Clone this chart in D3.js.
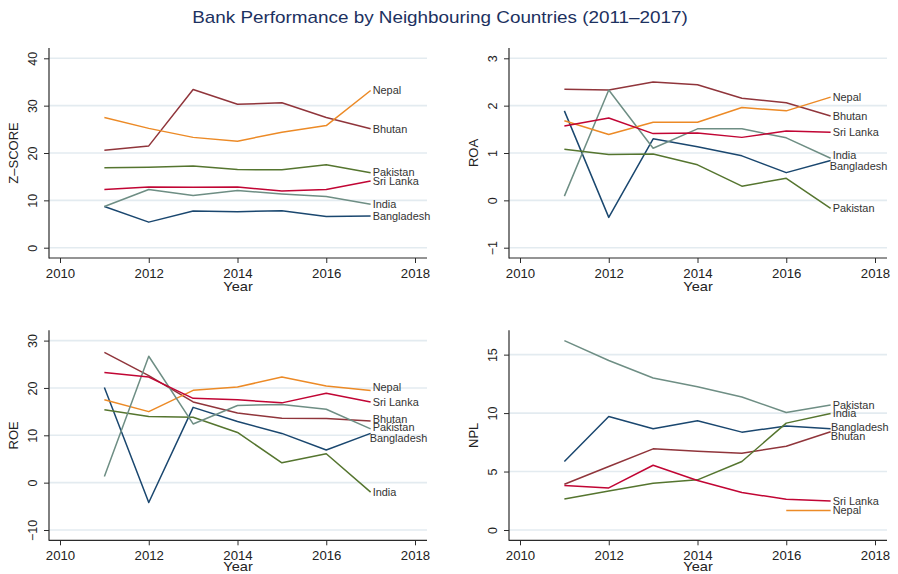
<!DOCTYPE html>
<html>
<head>
<meta charset="utf-8">
<script src="https://cdn.jsdelivr.net/npm/d3@7"></script>
<style>
  html, body { margin: 0; padding: 0; background: #fff; }
  svg { display: block; font-family: "Liberation Sans", Arial, Helvetica, sans-serif; }
</style>
</head>
<body>
<svg id="chart" width="898" height="574"></svg>
<script>
// ---- data ---------------------------------------------------------------
const years = [2011, 2012, 2013, 2014, 2015, 2016, 2017];
const countries = ["Bangladesh", "Bhutan", "India", "Nepal", "Pakistan", "Sri Lanka"];

const zScore = {
  "Bangladesh": [8.7, 5.4, 7.75, 7.6, 7.8, 6.6, 6.7],
  "Bhutan":     [20.6, 21.5, 33.4, 30.3, 30.6, 27.5, 25.1],
  "India":      [8.7, 12.3, 11.0, 12.1, 11.35, 10.8, 9.2],
  "Nepal":      [27.5, 25.2, 23.3, 22.5, 24.4, 25.8, 33.2],
  "Pakistan":   [16.9, 17.0, 17.25, 16.5, 16.45, 17.5, 15.85],
  "Sri Lanka":  [12.3, 12.8, 12.75, 12.8, 12.0, 12.3, 14.1]
};
const zTicks = [0, 10, 20, 30, 40];

const roa = {
  "Bangladesh": [1.89, -0.36, 1.30, 1.13, 0.94, 0.585, 0.84],
  "Bhutan":     [2.345, 2.33, 2.50, 2.44, 2.155, 2.06, 1.78],
  "India":      [0.09, 2.33, 1.10, 1.51, 1.51, 1.32, 0.89],
  "Nepal":      [1.68, 1.39, 1.65, 1.65, 1.96, 1.89, 2.18],
  "Pakistan":   [1.08, 0.97, 0.98, 0.75, 0.30, 0.465, -0.17],
  "Sri Lanka":  [1.57, 1.74, 1.41, 1.42, 1.33, 1.465, 1.44]
};
const roaTicks = [-1, 0, 1, 2, 3];

const roe = {
  "Bangladesh": [20.1, -4.2, 15.9, 12.9, 10.4, 6.9, 10.4],
  "Bhutan":     [27.5, 22.6, 17.05, 14.7, 13.6, 13.55, 13.0],
  "India":      [15.4, 13.95, 13.8, 10.6, 4.2, 6.1, -2.0],
  "Nepal":      [17.5, 15.0, 19.5, 20.2, 22.3, 20.4, 19.45],
  "Pakistan":   [1.3, 26.7, 12.4, 16.3, 16.5, 15.5, 11.35],
  "Sri Lanka":  [23.25, 22.3, 17.8, 17.5, 16.85, 18.9, 17.05]
};
const roeTicks = [-10, 0, 10, 20, 30];

const npl = {
  "Bangladesh": [5.86, 9.71, 8.66, 9.34, 8.37, 8.89, 8.66],
  "Bhutan":     [3.91, 5.43, 6.94, 6.74, 6.57, 7.17, 8.4],
  "India":      [2.66, 3.34, 4.0, 4.29, 5.86, 9.14, 9.97],
  "Nepal":      [null, null, null, null, null, 1.66, 1.66],
  "Pakistan":   [16.2, 14.5, 13.0, 12.26, 11.37, 10.05, 10.69],
  "Sri Lanka":  [3.8, 3.6, 5.54, 4.23, 3.2, 2.63, 2.49]
};
const nplTicks = [0, 5, 10, 15];

const xTicks = [2010, 2012, 2014, 2016, 2018];

// ---- styling ------------------------------------------------------------
const palette = {
  navy: "#1a476f", maroon: "#90353b", green: "#55752f",
  orange: "#ec8a26", teal: "#6e8e84", cranberry: "#c10534"
};
const colorsA = { "Bangladesh": "navy", "Bhutan": "maroon", "Pakistan": "green",
                  "Nepal": "orange", "India": "teal", "Sri Lanka": "cranberry" };
const colorsB = { "Bangladesh": "navy", "Bhutan": "maroon", "India": "green",
                  "Nepal": "orange", "Pakistan": "teal", "Sri Lanka": "cranberry" };

// small label shifts (dx, dy in px) to keep end labels apart
const panels = [
  { title: "Z\u2013SCORE", data: zScore, ticks: zTicks, colors: colorsA, ox: 0, oy: 0, nudge: {} },
  { title: "ROA", data: roa, ticks: roaTicks, colors: colorsA, ox: 460, oy: 0,
    nudge: { "India": [0, -3], "Bangladesh": [-3, 5.3] } },
  { title: "ROE", data: roe, ticks: roeTicks, colors: colorsB, ox: 0, oy: 282.3,
    nudge: { "Nepal": [0, -3], "Bhutan": [0, -2.3], "Pakistan": [0, -1.7], "Bangladesh": [-3, 4.7] } },
  { title: "NPL", data: npl, ticks: nplTicks, colors: colorsB, ox: 460, oy: 282.3,
    nudge: { "Bangladesh": [-1.7, -1.7], "Bhutan": [-2, 4.7] } }
];

const svg = d3.select("#chart");

// horizontally widened text, anchored at (x, y)
function wideText(sel, x, y, sx, anchor) {
  return sel.append("text")
    .attr("transform", `translate(${x},${y}) scale(${sx},1)`)
    .attr("text-anchor", anchor);
}

wideText(svg, 440, 23, 1.18, "middle")
  .attr("font-size", 16)
  .attr("fill", "#1c3160")
  .text("Bank Performance by Neighbouring Countries (2011\u20132017)");

const fmtTick = d => d < 0 ? "\u2212" + Math.abs(d) : String(d);
const axisColor = "#2b2b2b";

panels.forEach(p => {
  const g = svg.append("g");
  const left = p.ox + 49, right = p.ox + 427;
  const top = p.oy + 48, bottom = p.oy + 258;

  const x = d3.scaleLinear().domain([2010, 2018]).range([p.ox + 60, p.ox + 415]);
  const allVals = countries.flatMap(c => p.data[c]).filter(v => v != null).concat(p.ticks);
  const y = d3.scaleLinear().domain(d3.extent(allVals)).range([p.oy + 247.7, p.oy + 58.3]);

  // gridlines
  g.append("g").selectAll("line").data(p.ticks).join("line")
    .attr("x1", left).attr("x2", right)
    .attr("y1", d => y(d)).attr("y2", d => y(d))
    .attr("stroke", "#e3ebf0").attr("stroke-width", 1.6);

  // y axis
  const ya = g.append("g").attr("transform", `translate(${left},0)`)
    .call(d3.axisLeft(y).tickValues(p.ticks).tickSize(5).tickFormat(fmtTick));
  ya.select(".domain").remove();
  ya.selectAll(".tick line").attr("stroke", axisColor);
  ya.selectAll(".tick text")
    .attr("transform", "rotate(-90)")
    .attr("x", 0).attr("y", -12).attr("dy", 0)
    .attr("text-anchor", "middle")
    .attr("font-size", 12.5).attr("fill", "#222")
    .attr("font-family", "'Liberation Sans', Arial, sans-serif");

  // x axis
  const xa = g.append("g").attr("transform", `translate(0,${bottom})`)
    .call(d3.axisBottom(x).tickValues(xTicks).tickSize(5).tickFormat(d3.format("d")));
  xa.select(".domain").remove();
  xa.selectAll(".tick line").attr("stroke", axisColor);
  xa.selectAll(".tick text")
    .attr("y", 0).attr("dy", 0)
    .attr("transform", "translate(0,19.5) scale(1.1,1)")
    .attr("font-size", 12).attr("fill", "#222")
    .attr("font-family", "'Liberation Sans', Arial, sans-serif");

  // axis lines
  g.append("line").attr("x1", left).attr("x2", left).attr("y1", top).attr("y2", bottom + 0.5)
    .attr("stroke", axisColor).attr("stroke-width", 1.2);
  g.append("line").attr("x1", left).attr("x2", right).attr("y1", bottom).attr("y2", bottom)
    .attr("stroke", axisColor).attr("stroke-width", 1.2);

  // axis titles (kept inside the canvas at the bottom edge)
  wideText(g, (left + right) / 2, Math.min(p.oy + 291.3, 570.5), 1.08, "middle")
    .attr("font-size", 13.5).attr("fill", "#222")
    .text("Year");
  g.append("text")
    .attr("transform", `translate(${p.ox + 18},${(top + bottom) / 2}) rotate(-90)`)
    .attr("text-anchor", "middle").attr("font-size", 13).attr("fill", "#222")
    .text(p.title);

  // series lines
  const line = d3.line()
    .defined(d => d.v != null)
    .x(d => x(d.year)).y(d => y(d.v));

  countries.forEach(c => {
    const pts = years.map((yr, i) => ({ year: yr, v: p.data[c][i] }));
    g.append("path")
      .datum(pts)
      .attr("d", line)
      .attr("fill", "none")
      .attr("stroke", palette[p.colors[c]])
      .attr("stroke-width", 1.5)
      .attr("stroke-linejoin", "round");

    const last = pts[pts.length - 1];
    const nd = p.nudge[c] || [0, 0];
    wideText(g, x(last.year) + 2 + nd[0], y(last.v) + nd[1], 1.03, "start")
      .attr("dy", "0.36em")
      .attr("font-size", 10.6)
      .attr("fill", "#333")
      .text(c);
  });
});
</script>
</body>
</html>
